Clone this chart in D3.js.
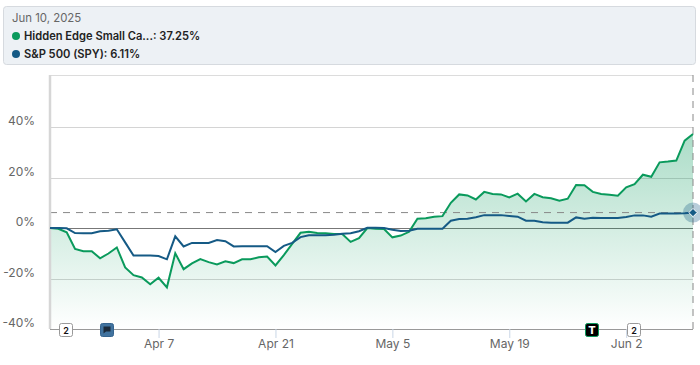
<!DOCTYPE html>
<html lang="en" dir="ltr">
  <head>
    <meta charset="utf-8">
    <title>Hidden Edge Small Cap vs S&amp;P 500</title>
    <style>
      html, body { margin: 0; padding: 0; background: #fff; }
      svg { display: block; font-family: Inter, "Open Sans", sans-serif; }
    </style>
  </head>
  <body>
    <svg class="chart"></svg>
    <script src="https://d3js.org/d3.v7.min.js"></script>
    <script>

    // one value per calendar day, Mar 25 - Jun 10 2025
    const hiddenEdge = [
      0, -0.3, -1.7, -8.3, -9.2, -9.2, -12, -10.1, -7.7, -15.6, -18.7, -19.6, -22.3, -19.7, -23.5,
      -10, -16.3, -14, -12.3, -13.5, -14.4, -13.2, -13.9, -12.4, -12.4, -11.6, -11.3, -14.8, -10.7,
      -6.3, -1.9, -1.5, -2, -2.1, -2.4, -2.4, -5.5, -4, 0, -0.3, -0.4, -3.7, -3, -1.5,
      3.7, 3.9, 4.5, 4.7, 10, 13.3, 12.9, 11.3, 14.3, 13.5, 13.3, 12.1, 13.6, 10.5,
      13.5, 12.2, 11.8, 10.8, 11.6, 17, 16.9, 14.3, 13.5, 13.2, 12.8, 16.1, 17.4, 21.1, 20.3, 26, 26.3, 26.7, 34.6, 37.25
    ];
    const spy = [
      0, 0, -0.1, -2, -2.1, -2.1, -1.3, -1.1, -0.5, -5.7, -10.9, -10.9, -10.9, -11.1, -12.4,
      -3.3, -7.3, -5.9, -5.9, -5.9, -4.8, -5.2, -7.3, -7.2, -7.2, -7.2, -7.2, -9.5, -7.1,
      -5.9, -3.6, -2.9, -2.9, -2.9, -2.7, -2.3, -2.1, -1.3, 0.1, 0.1, 0, -0.7, -1.2, -1.1,
      -0.3, -0.3, -0.3, -0.3, 2.9, 3.6, 3.7, 4.3, 5.1, 5.1, 5.1, 4.8, 4.5, 2.9,
      2.9, 2.3, 2.1, 2.1, 2.1, 4.2, 3.7, 4.1, 4, 4, 4, 4.4, 5, 5, 4.5, 5.7, 5.7, 5.7, 5.8, 6.11
    ];
    const yTicks = [-40, -20, 0, 20, 40];
    const xTickDates = ["2025-04-07", "2025-04-21", "2025-05-05", "2025-05-19", "2025-06-02"];
    const legendTitle = "Jun 10, 2025";
    const legendNames = ["Hidden Edge Small Ca...: 37.25%", "S&P 500 (SPY): 6.11%"];
    const eventDates = ["2025-03-27", "2025-04-01", "2025-05-29", "2025-06-03"];
    const eventKinds = ["count", "note", "trade", "count"];

    const days = d3.utcDay.range(new Date("2025-03-25"), new Date("2025-06-11"));
    const green = "#0a9a5c";
    const blue = "#155a85";

    const margins = { left: 50, right: 7, top: 75, bottom: 36 };
    const width = 700, height = 365;
    const svg = d3.select(".chart").attr("width", width).attr("height", height);

    const plotLeft = margins.left, plotRight = width - margins.right;
    const plotTop = margins.top, plotBottom = height - margins.bottom;
    const xScale = d3.scaleUtc().domain([days[0], days[days.length - 1]]).range([plotLeft, plotRight]);
    const yScale = d3.scaleLinear().domain([-40, 60.6]).range([plotBottom, plotTop]);

    const grad = svg.append("defs").append("linearGradient")
      .attr("id", "areaFill").attr("gradientUnits", "userSpaceOnUse")
      .attr("x1", 0).attr("x2", 0).attr("y1", yScale(37.25)).attr("y2", plotBottom);
    grad.append("stop").attr("offset", 0).attr("stop-color", green).attr("stop-opacity", 0.34);
    grad.append("stop").attr("offset", 1).attr("stop-color", green).attr("stop-opacity", 0);

    // legend box
    svg.append("rect").attr("x", 3.5).attr("y", 6.5).attr("width", 692).attr("height", 58).attr("rx", 3)
      .attr("fill", "#edf1f5").attr("stroke", "#d6dadf");
    svg.append("text").attr("x", 12).attr("y", 22).attr("font-size", 11.4).attr("fill", "#666").text(legendTitle);
    legendNames.forEach(function(name, i) {
      const y = 36 + i * 18;
      svg.append("circle").attr("cx", 16).attr("cy", y).attr("r", 4).attr("fill", i == 0 ? green : blue);
      svg.append("text").attr("x", 24).attr("y", y + 4).attr("font-size", 11.15).attr("font-weight", 600)
        .attr("fill", "#222").text(name);
    });

    // grid
    svg.append("line").attr("x1", plotLeft).attr("x2", plotRight).attr("y1", plotTop + 0.5).attr("y2", plotTop + 0.5).attr("stroke", "#dcdcdc");
    svg.selectAll(".grid").data(yTicks).enter().append("line")
      .attr("class", "grid")
      .attr("x1", plotLeft).attr("x2", plotRight)
      .attr("y1", (d) => Math.round(yScale(d)) + 0.5).attr("y2", (d) => Math.round(yScale(d)) + 0.5)
      .attr("stroke", (d) => d == 0 ? "#777" : (d == -40 ? "#999" : "#d4d4d4"));

    const xAt = (d, i) => xScale(days[i]);
    svg.append("path").datum(hiddenEdge)
      .attr("fill", "url(#areaFill)")
      .attr("d", d3.area().x(xAt).y0(plotBottom).y1((d) => yScale(d)));

    // last value guides
    svg.append("line").attr("x1", plotLeft).attr("x2", plotRight)
      .attr("y1", yScale(6.11)).attr("y2", yScale(6.11))
      .attr("stroke", "#888").attr("stroke-dasharray", "7,6");
    svg.append("line").attr("x1", plotRight).attr("x2", plotRight).attr("y1", plotTop).attr("y2", plotBottom)
      .attr("stroke", "#888").attr("stroke-dasharray", "7,6");

    // axes
    const yAxis = d3.axisLeft(yScale).tickValues(yTicks).tickSize(0).tickPadding(15).tickFormat((d) => d + "%");
    const yG = svg.append("g").attr("transform", "translate(" + plotLeft + ",0)").call(yAxis);
    yG.select(".domain").attr("stroke", "#d6d6d6").attr("stroke-width", 2.5).attr("d", "M0," + plotTop + "V" + plotBottom);
    yG.selectAll(".tick text").attr("y", -6);
    const xAxis = d3.axisBottom(xScale).tickValues(xTickDates.map((d) => new Date(d)))
      .tickSize(9).tickPadding(1).tickFormat(d3.utcFormat("%b %-d"));
    const xG = svg.append("g").attr("transform", "translate(0," + plotBottom + ")").call(xAxis);
    xG.select(".domain").remove();
    xG.selectAll(".tick line").attr("stroke", "#c9d6e6");
    svg.selectAll(".tick text").attr("fill", "#666").attr("font-size", 12).attr("font-family", "Inter, sans-serif");

    const line = d3.line().x(xAt).y((d) => yScale(d));
    svg.append("path").datum(hiddenEdge).attr("fill", "none").attr("stroke", green).attr("stroke-width", 2).attr("d", line);
    svg.append("path").datum(spy).attr("fill", "none").attr("stroke", blue).attr("stroke-width", 2).attr("d", line);

    // end marker
    const endX = xScale(days[days.length - 1]), endY = yScale(spy[spy.length - 1]);
    svg.append("circle").attr("cx", endX).attr("cy", endY).attr("r", 10).attr("fill", "#155a85").attr("opacity", 0.3);
    svg.append("path").attr("d", d3.symbol(d3.symbolDiamond2, 44)())
      .attr("transform", "translate(" + endX + "," + endY + ")")
      .attr("fill", blue).attr("stroke", "#fff").attr("stroke-width", 1);

    // event flags along the bottom
    const flags = svg.selectAll(".flag").data(eventDates).enter().append("g")
      .attr("class", "flag")
      .attr("transform", (d) => "translate(" + (Math.round(xScale(new Date(d))) - 1) + "," + (plotBottom + 0.5) + ")");
    flags.append("rect").attr("x", -6.5).attr("y", -6).attr("width", 13).attr("height", 13).attr("rx", 2)
      .attr("fill", (d, i) => eventKinds[i] == "count" ? "#fff" : (eventKinds[i] == "note" ? "#41739f" : "#000"))
      .attr("stroke", (d, i) => eventKinds[i] == "count" ? "#999" : (eventKinds[i] == "note" ? "#35648f" : green));
    flags.filter((d, i) => eventKinds[i] == "count").append("text")
      .attr("text-anchor", "middle").attr("y", 4).attr("font-size", 9).attr("font-weight", 600).attr("fill", "#111").text("2");
    flags.filter((d, i) => eventKinds[i] == "trade").append("text")
      .attr("text-anchor", "middle").attr("y", 4.5).attr("font-size", 11).attr("font-weight", 800).attr("fill", "#fff").text("T");
    flags.filter((d, i) => eventKinds[i] == "note").append("path")
      .attr("d", "M-3.5,-3H3.5V2H-1L-3.5,4Z").attr("fill", "#1b2a3a");
    </script>
  </body>
</html>
